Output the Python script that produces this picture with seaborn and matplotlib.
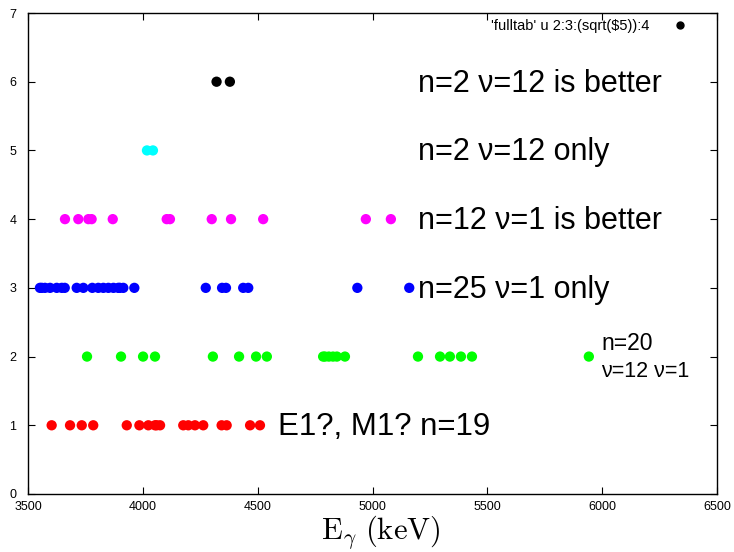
import pandas as pd
import seaborn as sns
import matplotlib.pyplot as plt
from matplotlib.lines import Line2D

# energies (keV) for each level
e_level1 = [3603, 3683, 3734, 3784, 3930, 3985, 4024, 4053, 4060, 4075, 4176,
            4198, 4227, 4263, 4343, 4365, 4467, 4510]
e_level2 = [3757, 3905, 4001, 4053, 4305, 4419, 4493, 4540, 4785, 4793, 4810,
            4828, 4845, 4880, 5198, 5294, 5337, 5385, 5433, 5942]
e_level3 = [3552, 3560, 3574, 3596, 3625, 3647, 3660, 3712, 3741, 3780, 3806,
            3828, 3850, 3872, 3893, 3900, 3915, 3963, 4274, 4345, 4362, 4437,
            4459, 4934, 5160]
e_level4 = [3661, 3719, 3763, 3777, 3869, 4104, 4118, 4300, 4384, 4524, 4971, 5080]
e_level5 = [4018, 4044]
e_level6 = [4321, 4379]

levels = [1, 2, 3, 4, 5, 6]
energies = [e_level1, e_level2, e_level3, e_level4, e_level5, e_level6]
colors = ['#ff0000', '#00ff00', '#0000ff', '#ff00ff', '#00ffff', '#000000']

labels = ['n=2 ν=12 is better', 'n=2 ν=12 only', 'n=12 ν=1 is better',
          'n=25 ν=1 only', 'n=20', 'ν=12 ν=1', 'E1?, M1? n=19']
label_x = [5198, 5198, 5198, 5198, 5995, 5995, 4588]
label_y = [5.97, 4.97, 3.97, 2.97, 2.19, 1.79, 0.97]

rows = []
for lev, es in zip(levels, energies):
    for e in es:
        rows.append({'E': e, 'level': lev})
data = pd.DataFrame(rows)

sns.set_style("ticks")
plt.rcParams['font.family'] = ['Liberation Sans', 'DejaVu Sans']
plt.rcParams['mathtext.fontset'] = 'cm'
for key in ['text.color', 'axes.labelcolor', 'xtick.color', 'ytick.color']:
    plt.rcParams[key] = 'black'

fig = plt.figure(figsize=(7.34, 5.52), dpi=100)
ax = fig.add_axes([28 / 734, 1 - 494 / 552, (717 - 28) / 734, (494 - 13) / 552])

sns.scatterplot(data=data, x='E', y='level', hue='level',
                palette=dict(zip(levels, colors)), s=55, linewidth=0,
                legend=False, ax=ax)

ax.set_xlim(3500, 6500)
ax.set_ylim(0, 7)
ax.set_xticks(range(3500, 6501, 500))
ax.set_yticks(range(0, 8))
ax.tick_params(direction='in', top=True, right=True, length=5, width=0.8,
               labelsize=9)
ax.tick_params(axis='x', pad=5)
ax.tick_params(axis='y', pad=8.5)
for sp in ax.spines.values():
    sp.set_linewidth(1.0)
    sp.set_color('black')

ax.set_xlabel(r'$\mathrm{E}_\gamma\ \mathrm{(keV)}$', fontsize=22)
ax.xaxis.set_label_coords(0.512, -0.04)
ax.set_ylabel('')

sizes = [22, 22, 22, 22, 16.5, 15.5, 22.5]
for txt, x, y, fs in zip(labels, label_x, label_y, sizes):
    ax.text(x, y, txt, fontsize=fs, va='center', ha='left')

handle = Line2D([], [], marker='o', color='black', linestyle='none', markersize=5)
ax.legend([handle], ["'fulltab' u 2:3:(sqrt(\\$5)):4"], loc='upper right',
          bbox_to_anchor=(672 / 689, 1.0), frameon=False, markerfirst=False,
          fontsize=10.5, handletextpad=1.1, borderaxespad=0.0)

fig.savefig('out.png', dpi=100)
